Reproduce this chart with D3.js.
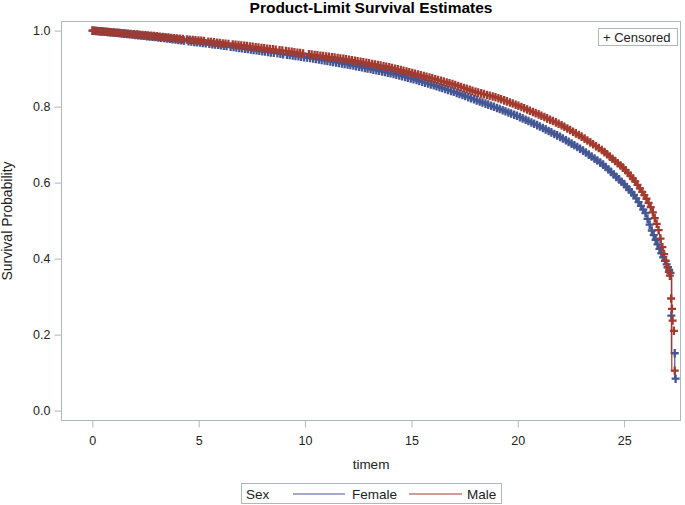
<!DOCTYPE html>
<html><head><meta charset="utf-8">
<script src="https://cdn.jsdelivr.net/npm/d3@7"></script>
<style>body{margin:0;background:#fff;} svg{display:block;font-family:"Liberation Sans",Arial,sans-serif;}</style>
</head><body>
<script>
// ---- data ----
const xTicks = [0, 5, 10, 15, 20, 25];
const yTicks = [0.0, 0.2, 0.4, 0.6, 0.8, 1.0];
const groups = ["Female", "Male"];
const colors = ["#445694", "#A23A2E"];

// Kaplan-Meier curve knots (time in months, survival)
const femaleTimes = [0,1,2,3,4,5,6,7,8,9,10,11,12,13,14,15,16,17,18,19,20,21,22,23,24,25,25.5,26,26.3,26.7,27.0,27.2,27.22,27.22,27.38,27.38,27.42];
const femaleSurv  = [1,0.995,0.989,0.983,0.976,0.969,0.962,0.954,0.946,0.938,0.93,0.921,0.911,0.9,0.888,0.874,0.857,0.839,0.818,0.797,0.775,0.749,0.72,0.687,0.648,0.596,0.565,0.52,0.474,0.42,0.385,0.36,0.36,0.151,0.151,0.084,0.084];
const maleTimes = [0,1,2,3,4,5,6,7,8,9,10,11,12,13,14,15,16,17,18,19,20,21,22,23,24,25,25.5,26,26.3,26.6,26.8,27.0,27.15,27.24,27.24,27.39];
const maleSurv  = [1,0.995,0.99,0.985,0.979,0.974,0.967,0.961,0.954,0.947,0.939,0.932,0.924,0.914,0.903,0.889,0.874,0.858,0.839,0.824,0.803,0.779,0.753,0.721,0.684,0.637,0.605,0.563,0.53,0.48,0.43,0.385,0.355,0.35,0.105,0.105];

// censoring times (marks sit on the curve)
const femaleCensored = [0.05,0.17,0.30,0.44,0.57,0.70,0.83,0.96,1.09,1.22,1.35,1.48,1.62,1.75,1.88,2.02,2.15,2.29,2.42,2.56,2.69,2.83,2.96,3.10,3.23,3.37,3.50,3.64,3.77,3.91,4.04,4.18,4.31,4.52,4.65,4.79,4.92,5.06,5.19,5.33,5.50,5.64,5.77,5.91,6.04,6.18,6.31,6.50,6.64,6.77,6.91,7.04,7.18,7.31,7.45,7.58,7.72,7.85,7.99,8.12,8.26,8.39,8.53,8.70,8.84,8.97,9.15,9.28,9.42,9.55,9.69,9.82,9.96,10.10,10.24,10.38,10.51,10.65,10.78,10.92,11.05,11.19,11.32,11.46,11.59,11.73,11.86,12.00,12.13,12.27,12.40,12.54,12.67,12.81,12.94,13.08,13.21,13.35,13.48,13.62,13.75,13.89,14.02,14.16,14.29,14.43,14.56,14.70,14.83,14.97,15.10,15.24,15.37,15.51,15.64,15.78,15.91,16.05,16.18,16.32,16.45,16.59,16.72,16.86,16.99,17.13,17.26,17.40,17.53,17.67,17.80,17.94,18.07,18.21,18.34,18.48,18.61,18.75,18.88,19.02,19.15,19.29,19.42,19.56,19.69,19.83,19.96,20.10,20.23,20.37,20.50,20.64,20.77,20.91,21.04,21.18,21.31,21.45,21.58,21.72,21.85,21.99,22.12,22.26,22.39,22.53,22.66,22.80,22.93,23.07,23.20,23.34,23.47,23.61,23.74,23.88,24.01,24.13,24.26,24.38,24.51,24.63,24.76,24.88,25.00,25.12,25.23,25.35,25.46,25.57,25.68,25.79,25.90,26.00,26.10,26.20,26.30,26.39,26.48,26.57,26.66,26.75,26.84,26.92,27.00,27.06,27.12,27.18];
const maleCensored = [0.00,0.10,0.22,0.38,0.50,0.63,0.76,0.88,1.01,1.15,1.27,1.40,1.55,1.68,1.80,1.95,2.10,2.22,2.36,2.50,2.63,2.77,2.90,3.04,3.17,3.31,3.44,3.58,3.71,3.85,3.98,4.12,4.26,4.45,4.58,4.72,4.85,4.99,5.12,5.25,5.45,5.58,5.72,5.86,5.99,6.13,6.26,6.40,6.60,6.73,6.87,7.00,7.14,7.27,7.41,7.54,7.68,7.81,7.95,8.08,8.22,8.35,8.49,8.62,8.80,8.93,9.10,9.23,9.37,9.50,9.64,9.77,9.91,10.18,10.31,10.45,10.58,10.72,10.85,10.99,11.12,11.26,11.39,11.53,11.66,11.80,11.93,12.07,12.20,12.34,12.47,12.61,12.74,12.88,13.01,13.15,13.28,13.42,13.55,13.69,13.82,13.96,14.09,14.23,14.36,14.50,14.63,14.77,14.90,15.04,15.17,15.31,15.44,15.58,15.71,15.85,15.98,16.12,16.25,16.39,16.52,16.66,16.79,16.93,17.06,17.20,17.33,17.47,17.60,17.74,17.87,18.01,18.14,18.28,18.41,18.55,18.68,18.82,18.95,19.09,19.22,19.36,19.49,19.63,19.76,19.90,20.03,20.17,20.30,20.44,20.57,20.71,20.84,20.98,21.11,21.25,21.38,21.52,21.65,21.79,21.92,22.06,22.19,22.33,22.46,22.60,22.73,22.87,23.00,23.14,23.27,23.41,23.54,23.68,23.81,23.95,24.08,24.20,24.33,24.45,24.58,24.70,24.83,24.95,25.07,25.18,25.30,25.41,25.52,25.63,25.74,25.85,25.95,26.05,26.15,26.25,26.35,26.44,26.53,26.62,26.71,26.80,26.88,26.96,27.04,27.10,27.15];

// censor marks on the final vertical drops (time, survival)
const femaleTailT = [27.22, 27.38, 27.42];
const femaleTailS = [0.25, 0.151, 0.084];
const maleTailT = [27.21, 27.25, 27.28, 27.34, 27.38];
const maleTailS = [0.295, 0.268, 0.237, 0.21, 0.105];

// ---- chart ----
const W = 685, H = 505;
const L = 61.5, R = 680.5, T = 21.5, B = 420.5;
const frameColor = "#B0B7BB";
const textColor = "#222";

const svg = d3.select("body").append("svg").attr("width", W).attr("height", H);

const x = d3.scaleLinear().domain([-1.45, 27.65]).range([L, R]);
const y = d3.scaleLinear().domain([-0.026, 1.024]).range([B, T]);

// title
svg.append("text").attr("x", 371).attr("y", 13).attr("text-anchor", "middle")
  .attr("font-size", 15.5).attr("font-weight", "bold").attr("fill", "#000")
  .text("Product-Limit Survival Estimates");

// frame
svg.append("rect").attr("x", L).attr("y", T).attr("width", R - L).attr("height", B - T)
  .attr("fill", "none").attr("stroke", frameColor).attr("stroke-width", 1);

// axes
const yAxis = d3.axisLeft(y).tickValues(yTicks).tickFormat(d3.format(".1f")).tickSize(7).tickPadding(4);
const gy = svg.append("g").attr("transform", `translate(${L},0)`).call(yAxis);
const xAxis = d3.axisBottom(x).tickValues(xTicks).tickFormat(d3.format("d")).tickSize(7).tickPadding(9);
const gx = svg.append("g").attr("transform", `translate(0,${B})`).call(xAxis);
[gx, gy].forEach(g => {
  g.select(".domain").remove();
  g.selectAll(".tick line").attr("stroke", frameColor);
  g.selectAll(".tick text").attr("fill", textColor).attr("font-size", 12.5)
    .attr("font-family", '"Liberation Sans",Arial,sans-serif');
});

// axis labels
svg.append("text").attr("x", 371).attr("y", 469).attr("text-anchor", "middle")
  .attr("font-size", 13.5).attr("fill", textColor).text("timem");
svg.append("text").attr("transform", "translate(12,221) rotate(-90)").attr("text-anchor", "middle")
  .attr("font-size", 14).attr("fill", textColor).text("Survival Probability");

// clip
svg.append("clipPath").attr("id", "clip").append("rect")
  .attr("x", L).attr("y", T).attr("width", R - L).attr("height", B - T);
const plot = svg.append("g").attr("clip-path", "url(#clip)");

function survAt(times, surv, t) {
  const i = d3.bisectRight(times, t);
  if (i <= 0) return surv[0];
  if (i >= times.length) return surv[surv.length - 1];
  const t0 = times[i - 1], t1 = times[i];
  if (t1 === t0) return surv[i];
  return surv[i - 1] + (surv[i] - surv[i - 1]) * (t - t0) / (t1 - t0);
}

const series = [
  {name: groups[0], color: colors[0], times: femaleTimes, surv: femaleSurv, cens: femaleCensored, tailT: femaleTailT, tailS: femaleTailS},
  {name: groups[1], color: colors[1], times: maleTimes, surv: maleSurv, cens: maleCensored, tailT: maleTailT, tailS: maleTailS}
];

const line = d3.line().x(d => x(d[0])).y(d => y(d[1]));
const plusPath = "M-4,0H4M0,-4.3V4.3";

series.forEach(s => {
  const pts = s.times.map((t, i) => [t, s.surv[i]]);
  plot.append("path").attr("d", line(pts)).attr("fill", "none")
    .attr("stroke", s.color).attr("stroke-width", 1.2);
  const marks = s.cens.map(t => [t, survAt(s.times, s.surv, t)])
    .concat(s.tailT.map((t, i) => [t, s.tailS[i]]));
  plot.append("g").selectAll("path").data(marks).join("path")
    .attr("d", plusPath)
    .attr("transform", d => `translate(${x(d[0])},${y(d[1])})`)
    .attr("fill", "none").attr("stroke", s.color).attr("stroke-width", 2.3);
});

// censored legend (inset)
const cg = svg.append("g");
cg.append("rect").attr("x", 598.5).attr("y", 28.5).attr("width", 79).attr("height", 17)
  .attr("fill", "#fff").attr("stroke", frameColor);
cg.append("text").attr("x", 603).attr("y", 41.5).attr("font-size", 13).attr("fill", textColor)
  .text("+ Censored");

// bottom legend
const lg = svg.append("g");
lg.append("rect").attr("x", 241.5).attr("y", 483.5).attr("width", 260).attr("height", 20)
  .attr("fill", "#fff").attr("stroke", frameColor);
lg.append("text").attr("x", 246).attr("y", 498.5).attr("font-size", 13.5).attr("fill", textColor).text("Sex");
const legItems = [{x1: 293, x2: 345, tx: 352}, {x1: 409, x2: 462, tx: 467}];
groups.forEach((g, i) => {
  const it = legItems[i];
  lg.append("line").attr("x1", it.x1).attr("x2", it.x2).attr("y1", 494).attr("y2", 494)
    .attr("stroke", colors[i]).attr("stroke-width", 1.2);
  lg.append("text").attr("x", it.tx).attr("y", 498.5).attr("font-size", 13.5).attr("fill", textColor).text(g);
});
</script>
</body></html>
